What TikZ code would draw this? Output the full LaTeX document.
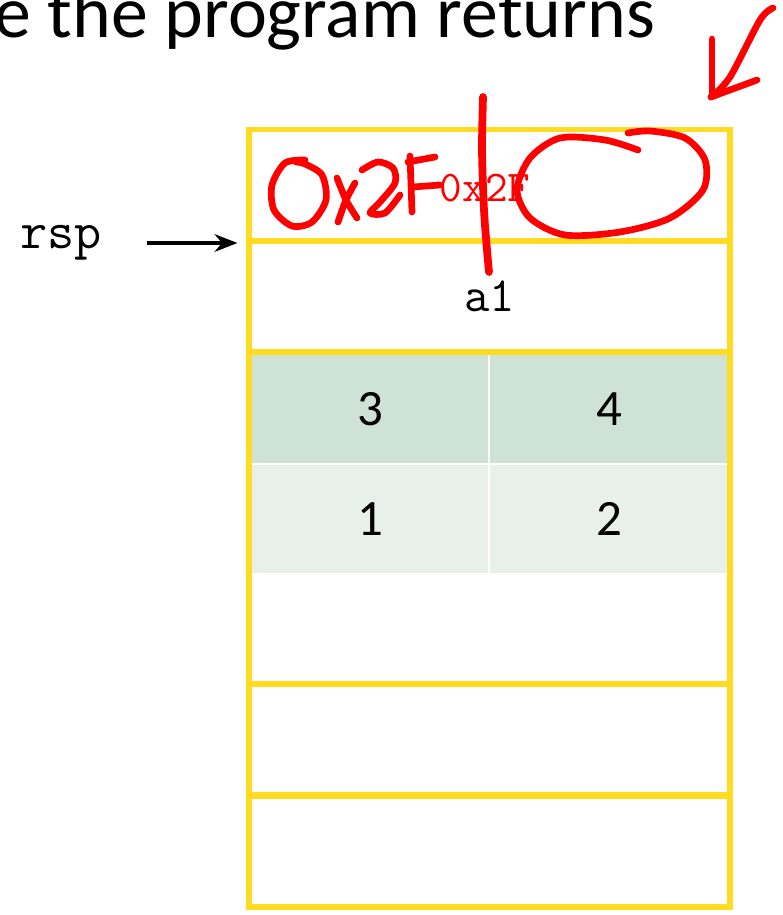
\documentclass[tikz,border=0pt]{standalone}
\usepackage{fontspec}
\setmainfont{Carlito}
\usepackage{tikz}
\usetikzlibrary{arrows.meta}
\definecolor{gold}{HTML}{FFDC22}
\definecolor{cellA}{HTML}{CFE2D6}
\definecolor{cellB}{HTML}{E7F0EA}
\definecolor{ink}{HTML}{FF0000}

\begin{document}
\begin{tikzpicture}[x=0.02cm, y=-0.02cm,
    slot/.style={draw=gold, line width=3.2pt, minimum width=9.62cm,
                 minimum height=2.22cm, inner sep=0pt,
                 font=\ttfamily\fontsize{28}{28}\selectfont},
    cell/.style={draw=white, line width=1.3pt, minimum width=4.79cm,
                 minimum height=2.2cm, inner sep=0pt,
                 font=\fontsize{29}{29}\selectfont},
    ptr/.style={-{Stealth[length=13pt, width=10pt]}, line width=2pt},
    pen/.style={ink, line width=3.8pt, line cap=round, line join=round}
  ]
    \path[use as bounding box] (0,0) rectangle (782,915);

    \node[anchor=base west, inner sep=0pt, font=\fontsize{42}{42}\selectfont]
      (title) at (-6,38) {e the program returns};

    % the array on the stack
    \node[cell, fill=cellA] (c3) at (370,409) {3};
    \node[cell, fill=cellA] (c4) at (609,409) {4};
    \node[cell, fill=cellB] (c1) at (370,519) {1};
    \node[cell, fill=cellB] (c2) at (609,519) {2};

    % stack slots
    \node[slot] (s1) at (489.5,185) {};
    \node[slot] (s2) at (489.5,296.5) {a1};
    \node[slot, minimum height=6.64cm] (s3) at (489.5,518) {};
    \node[slot] (s4) at (489.5,739.5) {};
    \node[slot] (s5) at (489.5,851.5) {};

    \node[font=\ttfamily\fontsize{30}{30}\selectfont] (rsp) at (61,243) {rsp};
    \draw[ptr, shorten <=22pt, shorten >=5pt] (rsp.east) -- (rsp.east -| s2.west);

    % return address written in by hand
    \node[ink, font=\ttfamily\fontsize{25}{25}\selectfont] (addr) at (485,188) {0x2F};
    \draw[pen] plot[smooth] coordinates {(305,160) (285,163) (272,185) (274,210)
      (292,226) (312,222) (326,200) (322,175) (305,164) (296,162)};
    \draw[pen] plot[smooth] coordinates {(337,178) (346,200) (357,218)};
    \draw[pen] plot[smooth] coordinates {(355,183) (346,200) (338,222)};
    \draw[pen] plot[smooth] coordinates {(362,170) (378,162) (393,168) (395,183)
      (380,202) (370,213) (385,213) (400,195)};
    \draw[pen] (410,156) -- (412,212);
    \draw[pen] (408,162) -- (435,157);
    \draw[pen] (413,187) -- (440,185);
    \draw[pen, line width=4.4pt] plot[smooth] coordinates {(483,97) (482,150)
      (484,210) (487,250) (489,272)};
    \draw[pen] plot[smooth] coordinates {(638,150) (605,140) (560,138) (530,158)
      (517,190) (530,218) (565,235) (620,232) (670,218) (703,190) (705,160)
      (685,138) (650,131) (628,133)};
    \draw[pen] plot[smooth] coordinates {(773,8) (760,20) (730,77) (711,97)};
    \draw[pen] (712,39) -- (712,96);
    \draw[pen] (711,97) -- (757,80);
  \end{tikzpicture}
\end{document}
